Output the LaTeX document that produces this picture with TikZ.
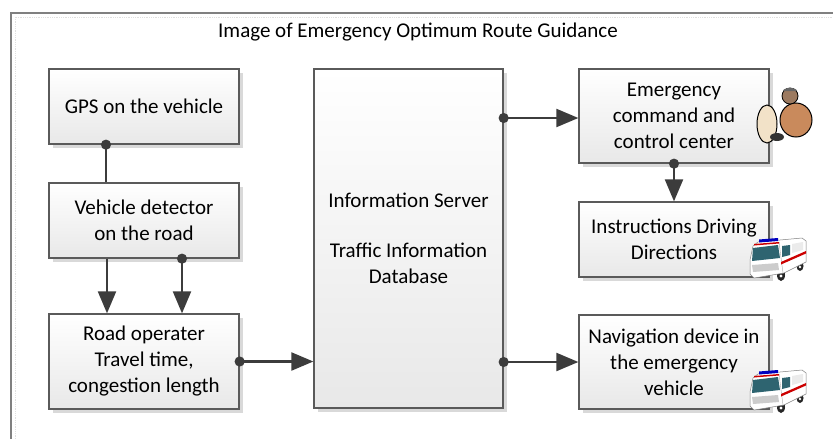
\documentclass[tikz,border=0pt]{standalone}
\usepackage{fontspec}
\setmainfont{Carlito}
\usepackage{tikz}
\usetikzlibrary{arrows.meta, shadows}
\usepackage{xcolor}

\definecolor{boxline}{HTML}{5A5A5A}
\definecolor{linkgray}{HTML}{3C3C3C}
\definecolor{glass}{HTML}{2E6470}
\definecolor{skin}{HTML}{9C7A60}
\definecolor{shirt}{HTML}{C98A5C}
\definecolor{paper}{HTML}{F2E2C8}

\tikzset{
  ambulance/.pic={
    \fill[black!85] (31,37) ellipse (4 and 6);
    \fill[black!85] (50,28) ellipse (3.5 and 5);
    \filldraw[fill=white, draw=black!50, line width=0.5pt]
      (0,22) -- (3,8) -- (8,4) -- (52,0) -- (56,3) -- (56,24) -- (34,35) -- (4,40) -- (0,36) -- cycle;
    \draw[black!35, line width=0.4pt] (29,4) -- (33,35);
    \fill[blue!75!black] (9,1.5) -- (28,0) -- (28,3) -- (9,4.5) -- cycle;
    \fill[red!80!black] (4,6) -- (29,4) -- (29,5.5) -- (4,7.5) -- cycle;
    \fill[glass] (3,10) -- (28,7) -- (30,20) -- (2,23) -- cycle;
    \fill[glass] (32,8) -- (40,7) -- (40,17) -- (32,19) -- cycle;
    \fill[black!8] (42,6) -- (53,4) -- (53,12) -- (42,15) -- cycle;
    \fill[red!80!black] (31,24) -- (56,13) -- (56,15.5) -- (31,26.5) -- cycle;
    \fill[black!20] (2,27) -- (28,25) -- (29,32) -- (3,34) -- cycle;
    \fill[white] (31,38) circle (1.6) (50,29) circle (1.3);
  },
  operator/.pic={
    \filldraw[fill=paper, draw=black, line width=1pt] (12,39) ellipse (10 and 19);
    \filldraw[fill=shirt, draw=black, line width=1pt] (41,35) ellipse (16 and 17);
    \filldraw[fill=skin, draw=black, line width=0.8pt] (35,11) circle (8);
    \fill[black!60] (28,6) arc (180:360:7 and 3) -- cycle;
    \fill[black!80] (22,52) ellipse (7 and 4);
  }
}

\begin{document}
\begin{tikzpicture}[x=1pt, y=-1pt,
    block/.style={draw=boxline, line width=1.3pt, top color=white, bottom color=black!9,
      drop shadow={shadow xshift=4pt, shadow yshift=-4pt, fill=black!15, opacity=1},
      minimum width=190pt, align=center, inner sep=0pt,
      font=\fontsize{21}{26}\selectfont},
    link/.style={draw=linkgray, line width=2.2pt, -{Triangle[length=22pt, width=18pt]}},
    dotlink/.style={link, {Circle[length=10pt]}-{Triangle[length=22pt, width=18pt]}, shorten <=-5pt}]

  \useasboundingbox (0,0) rectangle (833,439);
  \fill[white] (0,0) rectangle (833,439);

  % frame
  \draw[black!12, densely dotted, line width=0.8pt] (15,439) -- (15,17) -- (833,17);
  \draw[black!50, line width=1.5pt] (11,439) -- (11,13) -- (833,13);
  \node[font=\fontsize{21}{26}\selectfont] (title) at (418,32) {Image of Emergency Optimum Route Guidance};

  % left column
  \node[block, minimum height=75pt] (gps) at (144,106.5) {GPS on the vehicle};
  \node[block, minimum height=75pt] (detector) at (144,220.5) {Vehicle detector\\on the road};
  \node[block, minimum height=95pt] (operater) at (144,361.5) {Road operater\\Travel time,\\congestion length};

  % server
  \node[block, minimum width=189pt, minimum height=339pt] (server) at (408.5,238.5)
    {Information Server\\[24pt]Traffic Information\\Database};

  % right column
  \node[block, minimum height=94pt] (command) at (674,116) {Emergency\\command and\\control center};
  \node[block, minimum height=75pt] (directions) at (674,239.5) {Instructions Driving\\Directions};
  \node[block, minimum height=94pt] (navigation) at (674,362) {Navigation device in\\the emergency\\vehicle};

  \pic at (755,85) {operator};
  \pic at (750,238) {ambulance};
  \pic at (750,370) {ambulance};

  % connectors
  \draw[link, -{Circle[length=10pt]}, shorten >=-5pt] ([xshift=-38pt]detector.north) -- ([xshift=-38pt]gps.south);
  \draw[link] ([xshift=-37pt]detector.south) -- ([xshift=-37pt]operater.north);
  \draw[dotlink] ([xshift=38pt]detector.south) -- ([xshift=38pt]operater.north);
  \draw[dotlink] (operater.east) -- (operater.east -| server.west);
  \draw[dotlink] ([yshift=-2pt]command.west -| server.east) -- ([yshift=-2pt]command.west);
  \draw[dotlink] (navigation.west -| server.east) -- (navigation.west);
  \draw[dotlink] (command.south) -- (directions.north);
\end{tikzpicture}
\end{document}
